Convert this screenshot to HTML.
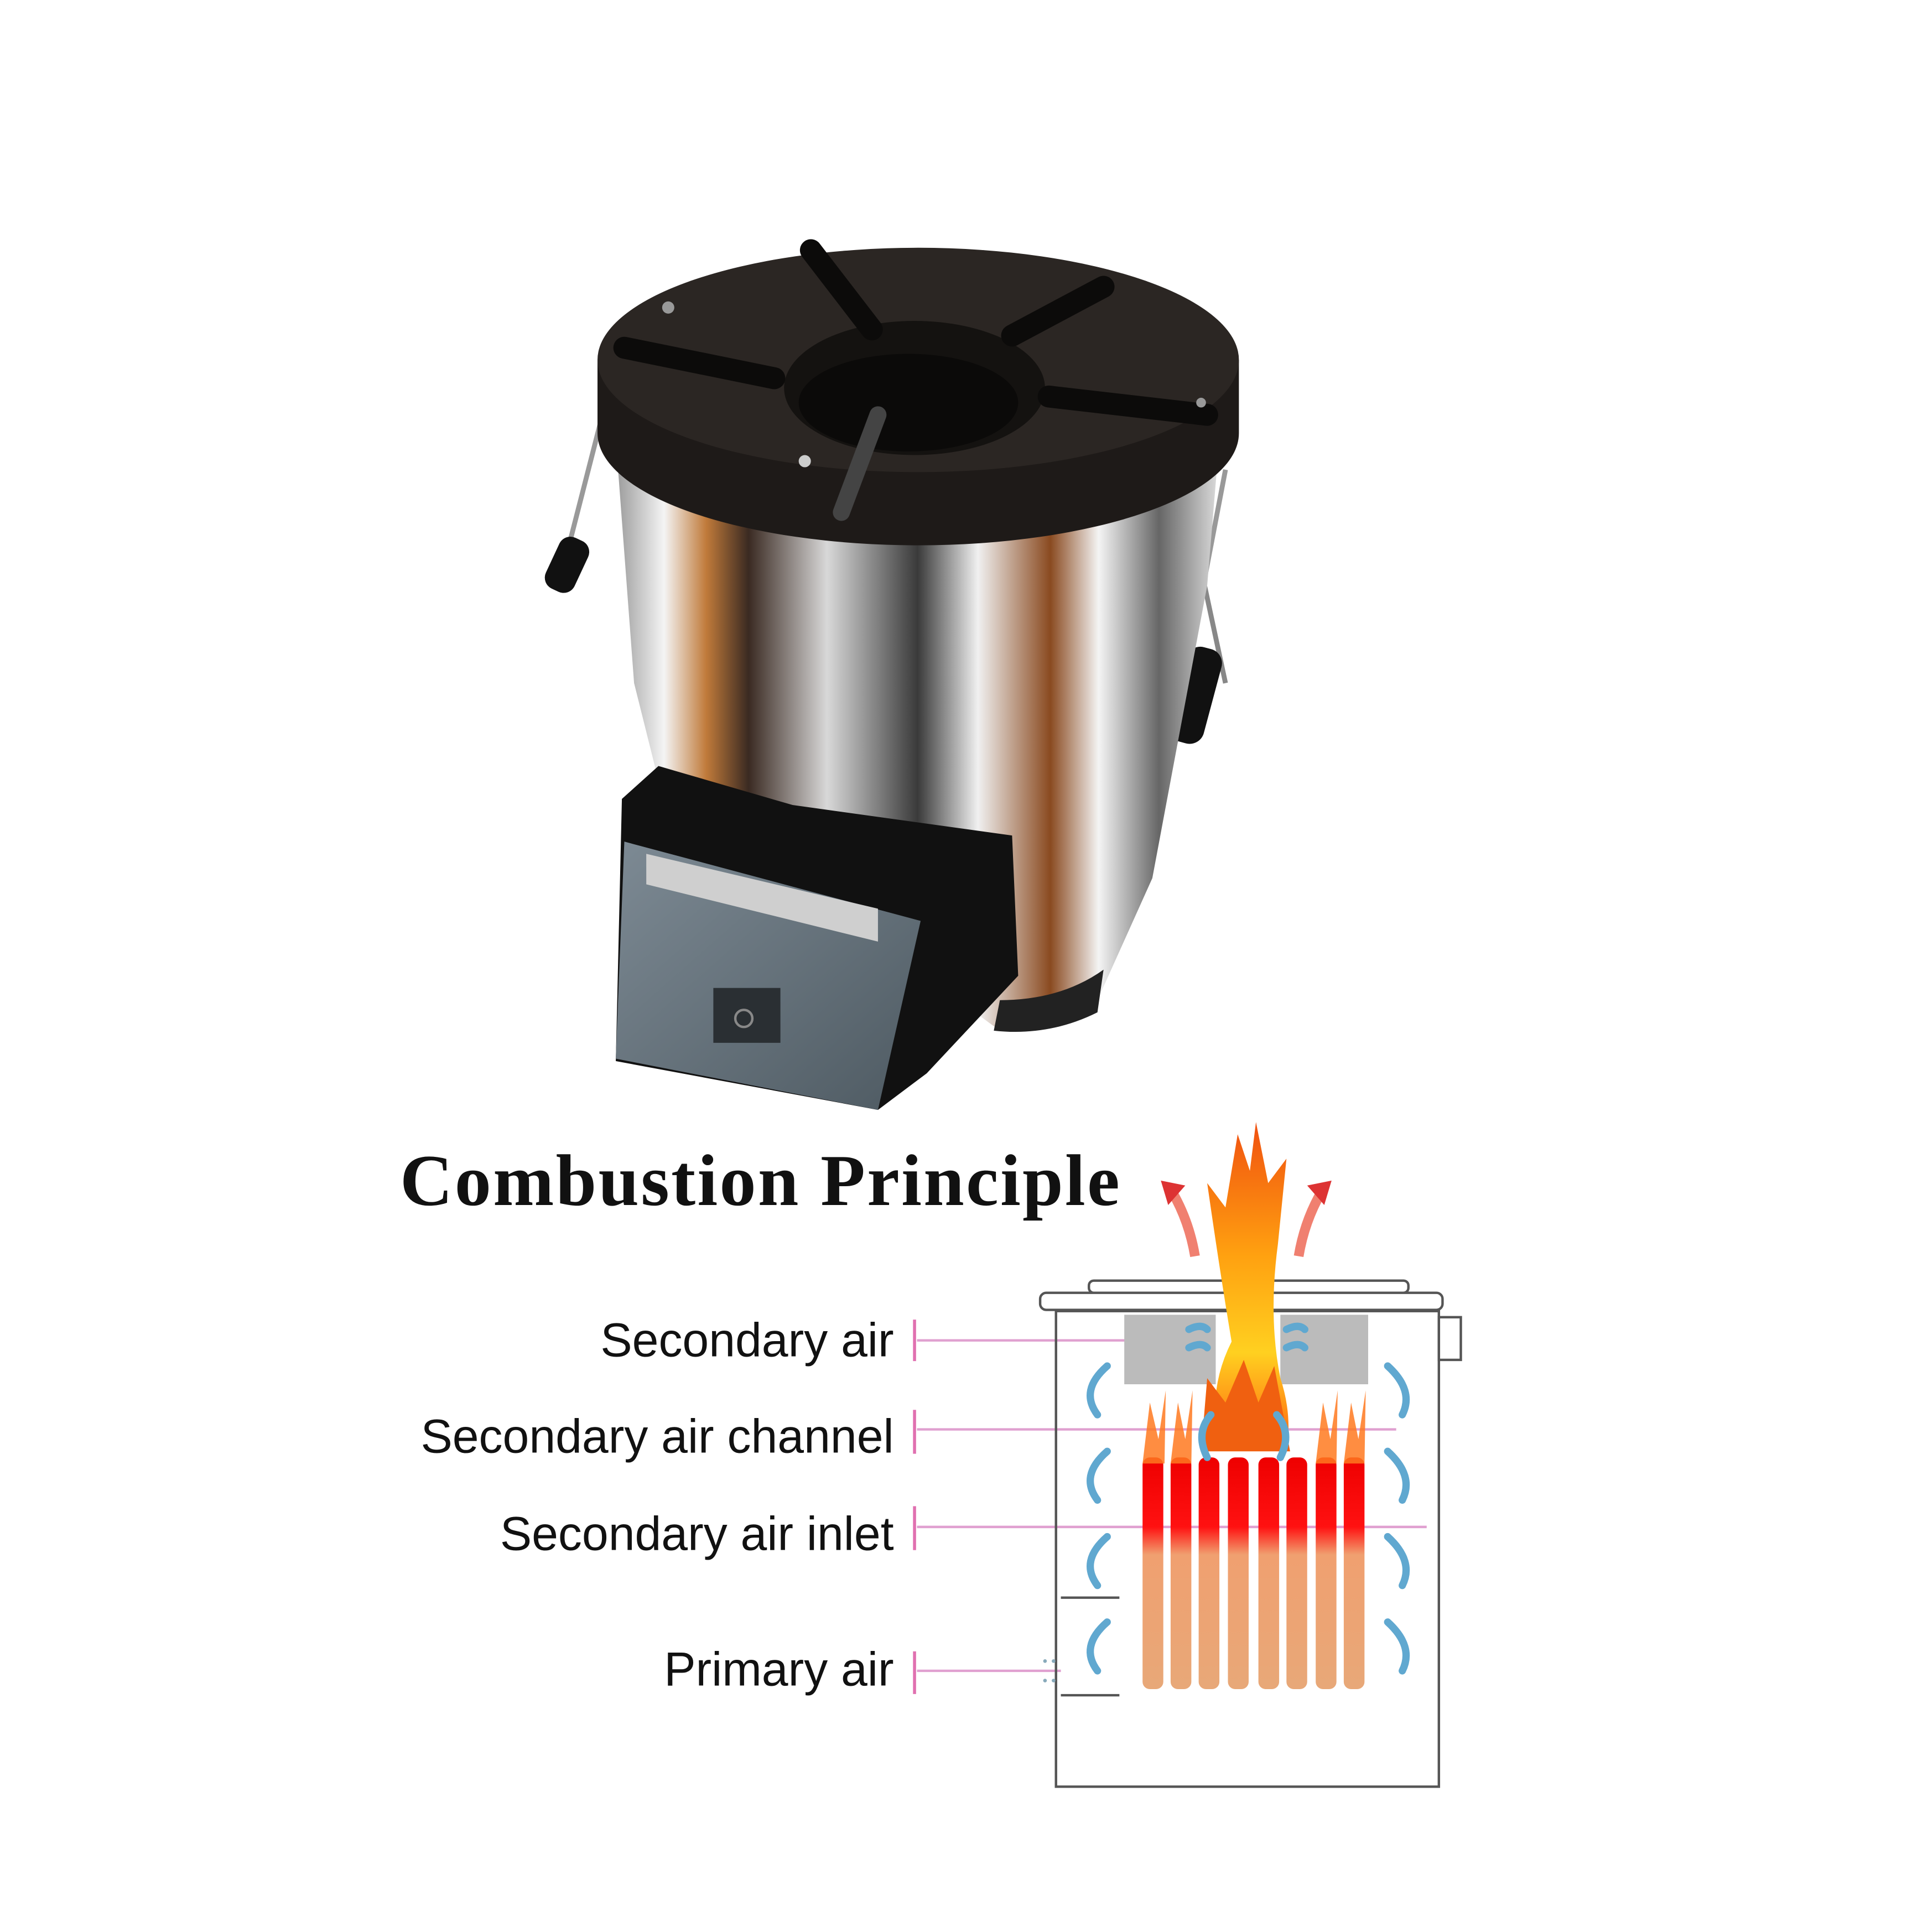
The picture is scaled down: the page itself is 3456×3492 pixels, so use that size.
<!DOCTYPE html>
<html><head><meta charset="utf-8"><style>
html,body{margin:0;padding:0;background:#fff}
svg{display:block}
</style></head><body>
<svg width="3456" height="3492" viewBox="0 0 1568 1584" xmlns="http://www.w3.org/2000/svg">
<defs>
<linearGradient id="steel" x1="0" x2="1" y1="0" y2="0">
<stop offset="0" stop-color="#9a9a9a"/><stop offset="0.08" stop-color="#f4f4f4"/>
<stop offset="0.15" stop-color="#c07a3a"/><stop offset="0.22" stop-color="#3a2a22"/>
<stop offset="0.35" stop-color="#d8d8d8"/><stop offset="0.5" stop-color="#3a3a3a"/>
<stop offset="0.6" stop-color="#f0f0f0"/><stop offset="0.72" stop-color="#8a4a20"/>
<stop offset="0.8" stop-color="#f4f4f4"/><stop offset="0.9" stop-color="#666"/><stop offset="1" stop-color="#ddd"/>
</linearGradient>
<linearGradient id="stick" x1="0" x2="0" y1="0" y2="1">
<stop offset="0" stop-color="#e00"/><stop offset="0.3" stop-color="#f11"/><stop offset="0.42" stop-color="#f0a070"/><stop offset="1" stop-color="#e8a878"/>
</linearGradient>
<linearGradient id="flame" x1="0" x2="0" y1="0" y2="1">
<stop offset="0" stop-color="#f05010"/><stop offset="0.4" stop-color="#ffa010"/><stop offset="0.7" stop-color="#ffd020"/><stop offset="1" stop-color="#ff6010"/>
</linearGradient>
<linearGradient id="door" x1="0" x2="1" y1="0" y2="1">
<stop offset="0" stop-color="#7d8a94"/><stop offset="1" stop-color="#4e5a62"/>
</linearGradient>
</defs>

<path d="M492 348 L462 465" stroke="#999" stroke-width="4" fill="none"/>
<rect x="452" y="440" width="26" height="46" rx="10" fill="#111" transform="rotate(25 465 463)"/>
<path d="M1005 385 L960 620" stroke="#999" stroke-width="4" fill="none"/>
<path d="M975 420 L1005 560" stroke="#888" stroke-width="4" fill="none"/>
<rect x="965" y="530" width="30" height="80" rx="12" fill="#111" transform="rotate(15 980 570)"/>
<path d="M505 360 L1000 360 L990 480 L945 720 L900 820 L820 845 L540 640 L520 560 Z" fill="url(#steel)"/>
<path d="M820 820 Q870 820 905 795 L900 830 Q860 850 815 845 Z" fill="#222"/>
<path d="M490 295 L490 355 A263 92 0 0 0 1016 355 L1016 295 Z" fill="#1e1a18"/>
<ellipse cx="753" cy="295" rx="263" ry="92" fill="#2b2623"/>
<ellipse cx="750" cy="318" rx="107" ry="55" fill="#141210"/>
<ellipse cx="745" cy="330" rx="90" ry="40" fill="#0b0a09"/>
<path d="M665 205 L715 270" stroke="#0c0b0a" stroke-width="18" stroke-linecap="round"/>
<path d="M830 275 L905 235" stroke="#0c0b0a" stroke-width="18" stroke-linecap="round"/>
<path d="M512 285 L635 310" stroke="#0c0b0a" stroke-width="18" stroke-linecap="round"/>
<path d="M860 325 L990 340" stroke="#0c0b0a" stroke-width="18" stroke-linecap="round"/>
<path d="M720 340 L690 420" stroke="#444" stroke-width="14" stroke-linecap="round"/>
<circle cx="548" cy="252" r="5" fill="#999"/><circle cx="660" cy="378" r="5" fill="#ccc"/><circle cx="985" cy="330" r="4" fill="#999"/>
<path d="M510 655 L540 628 L650 660 L830 685 L835 800 L760 880 L720 910 L505 870 Z" fill="#111"/>
<path d="M512 690 L755 755 L720 910 L505 868 Z" fill="url(#door)"/>
<path d="M530 700 L720 745 L720 772 L530 725 Z" fill="#cfcfcf"/>
<rect x="585" y="810" width="55" height="45" fill="#2a2f33"/>
<circle cx="610" cy="835" r="7" fill="none" stroke="#888" stroke-width="2"/>

<text x="328" y="988" font-family="Liberation Serif, serif" font-weight="bold" font-size="60" letter-spacing="1.5" fill="#111">Combustion Principle</text>

<g font-family="Liberation Sans, sans-serif" font-size="39" fill="#111" text-anchor="end">
<text x="733" y="1112">Secondary air</text>
<text x="733" y="1191">Secondary air channel</text>
<text x="733" y="1271">Secondary air inlet</text>
<text x="733" y="1382">Primary air</text>
</g>
<g stroke="#e070b0" stroke-width="2.5">
<line x1="750" y1="1082" x2="750" y2="1116"/><line x1="750" y1="1156" x2="750" y2="1192"/>
<line x1="750" y1="1235" x2="750" y2="1271"/><line x1="750" y1="1354" x2="750" y2="1389"/>
</g>
<g stroke="#e0a0d0" stroke-width="2">
<line x1="752" y1="1099" x2="975" y2="1099"/><line x1="752" y1="1172" x2="1145" y2="1172"/>
<line x1="752" y1="1252" x2="1170" y2="1252"/><line x1="752" y1="1370" x2="870" y2="1370"/>
</g>

<g fill="none" stroke="#555" stroke-width="2">
<rect x="866" y="1075" width="314" height="390"/>
<rect x="893" y="1050" width="262" height="10" rx="4" fill="#fff"/>
<rect x="853" y="1060" width="330" height="14" rx="5" fill="#fff"/>
<rect x="1180" y="1080" width="18" height="35"/>
<line x1="870" y1="1310" x2="918" y2="1310"/><line x1="870" y1="1390" x2="918" y2="1390"/>
</g>
<rect x="922" y="1078" width="75" height="57" fill="#bbb"/>
<rect x="1050" y="1078" width="72" height="57" fill="#bbb"/>
<path d="M1000 1180 Q990 1140 1010 1100 Q1000 1040 990 970 L1005 990 L1015 930 L1025 960 L1030 920 L1040 970 L1055 950 L1048 1020 Q1040 1080 1050 1130 Q1060 1160 1055 1190 Z" fill="url(#flame)"/>
<path d="M985 1190 L990 1130 L1005 1150 L1020 1115 L1032 1150 L1045 1120 L1058 1190 Z" fill="#f06010"/>
<path d="M980 1030 Q975 1000 960 975" stroke="#f08070" stroke-width="8" fill="none"/>
<path d="M952 968 L972 972 L958 988 Z" fill="#d33"/>
<path d="M1065 1030 Q1070 1000 1085 975" stroke="#f08070" stroke-width="8" fill="none"/>
<path d="M1092 968 L1072 972 L1086 988 Z" fill="#d33"/>
<g fill="url(#stick)">
<rect x="937" y="1195" width="17" height="190" rx="6"/>
<rect x="960" y="1195" width="17" height="190" rx="6"/>
<rect x="983" y="1195" width="17" height="190" rx="6"/>
<rect x="1007" y="1195" width="17" height="190" rx="6"/>
<rect x="1032" y="1195" width="17" height="190" rx="6"/>
<rect x="1055" y="1195" width="17" height="190" rx="6"/>
<rect x="1079" y="1195" width="17" height="190" rx="6"/>
<rect x="1102" y="1195" width="17" height="190" rx="6"/>
</g>
<g fill="#ff7a20" opacity="0.85">
<path d="M937 1200 L943 1150 L950 1180 L956 1140 L955 1200 Z"/>
<path d="M960 1200 L966 1150 L972 1180 L978 1140 L977 1200 Z"/>
<path d="M1079 1200 L1085 1150 L1091 1180 L1097 1140 L1096 1200 Z"/>
<path d="M1102 1200 L1108 1150 L1114 1180 L1120 1140 L1119 1200 Z"/>
</g>
<g fill="none" stroke="#60a8d0" stroke-width="6" stroke-linecap="round">
<path d="M900 1160 Q885 1140 908 1120"/><path d="M900 1230 Q885 1210 908 1190"/>
<path d="M900 1300 Q885 1280 908 1260"/><path d="M900 1370 Q885 1350 908 1330"/>
<path d="M1150 1160 Q1160 1140 1138 1120"/><path d="M1150 1230 Q1160 1210 1138 1190"/>
<path d="M1150 1300 Q1160 1280 1138 1260"/><path d="M1150 1370 Q1160 1350 1138 1330"/>
<path d="M990 1195 Q980 1175 993 1160"/><path d="M1050 1195 Q1060 1175 1047 1160"/>
<path d="M975 1090 Q985 1085 990 1090"/><path d="M975 1105 Q985 1100 990 1105"/>
<path d="M1055 1090 Q1065 1085 1070 1090"/><path d="M1055 1105 Q1065 1100 1070 1105"/>
</g>
<g fill="#8ab"><circle cx="857" cy="1362" r="1.5"/><circle cx="864" cy="1362" r="1.5"/><circle cx="857" cy="1378" r="1.5"/><circle cx="864" cy="1378" r="1.5"/></g>
</svg>
</body></html>
